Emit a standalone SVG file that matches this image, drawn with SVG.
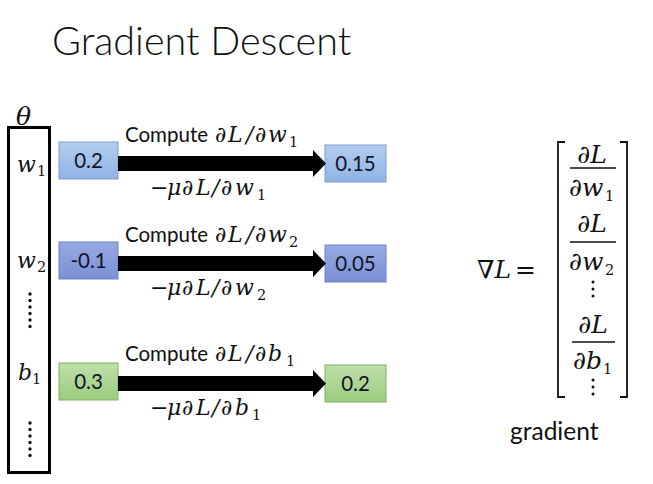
<svg xmlns="http://www.w3.org/2000/svg" width="653" height="484" viewBox="0 0 653 484">
<style>
.title{font-family:Lato,"Open Sans",sans-serif;font-weight:300;font-size:39.5px;fill:#111}
.lab{font-family:Lato,"Open Sans",sans-serif;font-size:20.5px;fill:#111}
.num{font-family:Lato,"Open Sans",sans-serif;font-size:20.5px;fill:#10142a;text-anchor:middle}
.m{font-family:"DejaVu Serif","Liberation Serif",serif;font-style:italic;font-size:22px;fill:#111}
.sub{font-family:"DejaVu Serif","Liberation Serif",serif;font-size:14.5px;fill:#111}
.mm{font-family:"DejaVu Serif","Liberation Serif",serif;font-style:italic;font-size:25px;fill:#111}
.mc{font-family:"DejaVu Serif","Liberation Serif",serif;font-style:italic;font-size:25px;fill:#111;text-anchor:middle}
.br{fill:none;stroke:#111;stroke-width:1.8}
.fr{stroke:#111;stroke-width:1.6}
.blue{fill:url(#gBlue);stroke:#7f9fcf;stroke-width:1}
.blue2{fill:url(#gBlue2);stroke:#6f82c4;stroke-width:1}
.green{fill:url(#gGreen);stroke:#7fb063;stroke-width:1}
.arrow{fill:#000}
.dot{fill:#111}
</style>
<defs>
<linearGradient id="gBlue" x1="0" y1="0" x2="0" y2="1"><stop offset="0" stop-color="#b3cdef"/><stop offset="1" stop-color="#8fb3e3"/></linearGradient>
<linearGradient id="gBlue2" x1="0" y1="0" x2="0" y2="1"><stop offset="0" stop-color="#98a9e2"/><stop offset="1" stop-color="#7b90d4"/></linearGradient>
<linearGradient id="gGreen" x1="0" y1="0" x2="0" y2="1"><stop offset="0" stop-color="#bfdfa9"/><stop offset="1" stop-color="#9ccb7f"/></linearGradient>
</defs>
<rect width="653" height="484" fill="#fff"/>
<text class="title" x="52" y="55">Gradient Descent</text>

<g id="theta">
<text class="mm" x="16" y="125">θ</text>
<rect x="8.5" y="127.5" width="41" height="345" fill="none" stroke="#000" stroke-width="3"/>
<text class="m" x="17" y="172">w</text><text class="sub" x="37" y="176">1</text>
<text class="m" x="17" y="268">w</text><text class="sub" x="37" y="272">2</text>
<g class="dot"><circle cx="30" cy="294" r="1.7"/><circle cx="30" cy="300.5" r="1.7"/><circle cx="30" cy="307" r="1.7"/><circle cx="30" cy="313.5" r="1.7"/><circle cx="30" cy="320" r="1.7"/><circle cx="30" cy="326.5" r="1.7"/></g>
<text class="m" x="18" y="380">b</text><text class="sub" x="32" y="384">1</text>
<g class="dot"><circle cx="30" cy="423" r="1.7"/><circle cx="30" cy="429.5" r="1.7"/><circle cx="30" cy="436" r="1.7"/><circle cx="30" cy="442.5" r="1.7"/><circle cx="30" cy="449" r="1.7"/><circle cx="30" cy="455.5" r="1.7"/></g>
</g>

<g id="w1-old"><rect class="blue" x="59" y="142" width="59" height="37"/><text class="num" x="88.5" y="168">0.2</text></g>
<g id="w1-new"><rect class="blue" x="325" y="145" width="61" height="37"/><text class="num" x="355.5" y="171">0.15</text></g>
<g id="w2-old"><rect class="blue2" x="59" y="242" width="59" height="37"/><text class="num" x="88.5" y="268">-0.1</text></g>
<g id="w2-new"><rect class="blue2" x="325" y="245" width="61" height="37"/><text class="num" x="355.5" y="271">0.05</text></g>
<g id="b1-old"><rect class="green" x="59" y="363" width="59" height="37"/><text class="num" x="88.5" y="389">0.3</text></g>
<g id="b1-new"><rect class="green" x="325" y="365" width="61" height="37"/><text class="num" x="355.5" y="391">0.2</text></g>

<g id="connectors">
<path class="arrow" d="M118,156 H313 V150 L326,163.5 L313,177 V171 H118 Z"/>
<path class="arrow" d="M118,256 H313 V250 L326,263.5 L313,277 V271 H118 Z"/>
<path class="arrow" d="M118,376 H313 V370 L326,383.5 L313,397 V391 H118 Z"/>
</g>

<g id="label-w1">
<text class="lab" x="125" y="142">Compute</text>
<text class="m" x="215 228 246 255 268" y="142">∂L/∂w</text><text class="sub" x="289" y="147">1</text>
<text class="m" x="150 167 182 196 212 221 235" y="195">−μ∂L/∂w</text><text class="sub" x="257" y="200">1</text>
</g>
<g id="label-w2">
<text class="lab" x="125" y="242">Compute</text>
<text class="m" x="215 228 246 255 268" y="242">∂L/∂w</text><text class="sub" x="289" y="247">2</text>
<text class="m" x="150 167 182 196 212 221 235" y="295">−μ∂L/∂w</text><text class="sub" x="257" y="300">2</text>
</g>
<g id="label-b1">
<text class="lab" x="125" y="361">Compute</text>
<text class="m" x="215 228 246 255 268" y="361">∂L/∂b</text><text class="sub" x="286" y="366">1</text>
<text class="m" x="150 167 182 196 212 221 235" y="415">−μ∂L/∂b</text><text class="sub" x="252" y="420">1</text>
</g>

<g id="gradient">
<text class="mm" x="477" y="278">∇L</text>
<text class="mm" x="515" y="278" style="font-style:normal">=</text>
<path class="br" d="M565,142 H558 V397 H565"/>
<path class="br" d="M620,142 H627 V397 H620"/>
<text class="mc" x="592" y="163">∂L</text>
<line class="fr" x1="570" y1="168" x2="616" y2="168"/>
<text class="mm" x="569" y="196">∂w</text><text class="sub" x="605" y="201">1</text>
<text class="mc" x="592" y="232">∂L</text>
<line class="fr" x1="570" y1="242" x2="616" y2="242"/>
<text class="mm" x="569" y="270">∂w</text><text class="sub" x="605" y="275">2</text>
<g class="dot"><circle cx="593" cy="282" r="1.5"/><circle cx="593" cy="289" r="1.5"/><circle cx="593" cy="296" r="1.5"/></g>
<text class="mc" x="593" y="333">∂L</text>
<line class="fr" x1="572" y1="342" x2="615" y2="342"/>
<text class="mm" x="573" y="369">∂b</text><text class="sub" x="603" y="374">1</text>
<g class="dot"><circle cx="593" cy="380" r="1.5"/><circle cx="593" cy="387" r="1.5"/><circle cx="593" cy="394" r="1.5"/></g>
<text class="lab" x="510" y="440" style="font-size:24.5px">gradient</text>
</g>
</svg>
